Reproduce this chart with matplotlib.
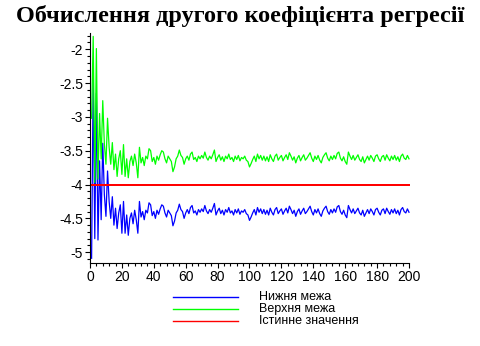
import matplotlib.pyplot as plt
from matplotlib.lines import Line2D
from matplotlib.ticker import MultipleLocator, FuncFormatter
import numpy as np

plt.rcParams['font.family'] = ['Liberation Sans', 'DejaVu Sans']
plt.rcParams['axes.unicode_minus'] = False

# номер ітерації
n = np.arange(1, 201)

# нижня межа довірчого інтервалу
lower = [
    -5.09, -2.43, -4.80, -2.65, -4.82, -3.65, -4.52, -3.39, -4.15, -4.47,
    -3.80, -4.25, -4.50, -4.18, -4.60, -4.35, -4.65, -4.42, -4.30, -4.72,
    -4.25, -4.72, -4.45, -4.75, -4.50, -4.42, -4.58, -4.38, -4.52, -4.72,
    -4.25, -4.48, -4.40, -4.52, -4.38, -4.42, -4.27, -4.30, -4.46, -4.40,
    -4.50, -4.38, -4.44, -4.36, -4.30, -4.32, -4.42, -4.48, -4.38, -4.42,
    -4.46, -4.61, -4.54, -4.42, -4.38, -4.29, -4.37, -4.40, -4.50, -4.42,
    -4.37, -4.43, -4.34, -4.31, -4.42, -4.39, -4.45, -4.37, -4.41, -4.36,
    -4.40, -4.31, -4.39, -4.43, -4.37, -4.41, -4.35, -4.28, -4.45, -4.39,
    -4.35, -4.43, -4.38, -4.45, -4.37, -4.41, -4.34, -4.42, -4.39, -4.45,
    -4.37, -4.42, -4.36, -4.44, -4.39, -4.41, -4.37, -4.43, -4.45, -4.53,
    -4.48, -4.42, -4.37, -4.45, -4.34, -4.41, -4.36, -4.43, -4.37, -4.44,
    -4.38, -4.45, -4.35, -4.41, -4.45, -4.37, -4.34, -4.43, -4.39, -4.36,
    -4.44, -4.39, -4.35, -4.42, -4.32, -4.37, -4.43, -4.38, -4.47, -4.40,
    -4.36, -4.44, -4.39, -4.35, -4.43, -4.40, -4.36, -4.32, -4.40, -4.45,
    -4.37, -4.42, -4.36, -4.43, -4.47, -4.39, -4.35, -4.32, -4.40, -4.44,
    -4.37, -4.42, -4.36, -4.41, -4.33, -4.31, -4.40, -4.44, -4.38, -4.45,
    -4.49, -4.31, -4.37, -4.42, -4.36, -4.43, -4.39, -4.35, -4.42, -4.45,
    -4.38, -4.47, -4.42, -4.37, -4.43, -4.36, -4.40, -4.45, -4.37, -4.35,
    -4.41, -4.45, -4.38, -4.36, -4.43, -4.35, -4.40, -4.44, -4.37, -4.42,
    -4.36, -4.43, -4.38, -4.45, -4.37, -4.34, -4.40, -4.42, -4.36, -4.41,
]

# верхня межа довірчого інтервалу
upper = [
    -3.02, -1.81, -3.97, -1.99, -3.92, -2.95, -3.62, -2.76, -3.40, -3.70,
    -3.02, -3.45, -3.70, -3.38, -3.78, -3.55, -3.88, -3.62, -3.50, -3.85,
    -3.41, -3.88, -3.62, -3.90, -3.66, -3.58, -3.72, -3.55, -3.68, -3.90,
    -3.45, -3.68, -3.60, -3.72, -3.58, -3.62, -3.47, -3.50, -3.66, -3.60,
    -3.70, -3.58, -3.64, -3.56, -3.50, -3.52, -3.62, -3.68, -3.58, -3.62,
    -3.66, -3.81, -3.74, -3.62, -3.58, -3.49, -3.57, -3.60, -3.70, -3.62,
    -3.58, -3.64, -3.55, -3.52, -3.63, -3.60, -3.66, -3.58, -3.62, -3.57,
    -3.61, -3.52, -3.60, -3.64, -3.58, -3.62, -3.56, -3.49, -3.66, -3.60,
    -3.56, -3.64, -3.59, -3.66, -3.58, -3.62, -3.55, -3.63, -3.60, -3.66,
    -3.58, -3.63, -3.57, -3.65, -3.60, -3.62, -3.58, -3.64, -3.66, -3.74,
    -3.69, -3.63, -3.58, -3.66, -3.55, -3.62, -3.57, -3.64, -3.58, -3.65,
    -3.59, -3.66, -3.56, -3.62, -3.66, -3.58, -3.55, -3.64, -3.60, -3.57,
    -3.65, -3.60, -3.56, -3.63, -3.53, -3.58, -3.64, -3.59, -3.68, -3.61,
    -3.57, -3.65, -3.60, -3.56, -3.64, -3.61, -3.57, -3.53, -3.61, -3.66,
    -3.58, -3.63, -3.57, -3.64, -3.68, -3.60, -3.56, -3.53, -3.61, -3.65,
    -3.58, -3.63, -3.57, -3.62, -3.54, -3.52, -3.61, -3.65, -3.59, -3.66,
    -3.70, -3.52, -3.58, -3.63, -3.57, -3.64, -3.60, -3.56, -3.63, -3.66,
    -3.59, -3.68, -3.63, -3.58, -3.64, -3.57, -3.61, -3.66, -3.58, -3.56,
    -3.62, -3.66, -3.59, -3.57, -3.64, -3.56, -3.61, -3.65, -3.58, -3.63,
    -3.57, -3.64, -3.59, -3.66, -3.58, -3.55, -3.61, -3.63, -3.57, -3.62,
]

# істинне значення коефіцієнта
true_value = -4.0

names = ['Нижня межа', 'Верхня межа', 'Істинне значення']
colors = ['#0000ff', '#00ff00', '#ff0000']

fig = plt.figure(figsize=(4.81, 3.46), dpi=100)
ax = fig.add_axes([90 / 481, 1 - 263 / 346, 319 / 481, 230 / 346])

ax.plot(n, lower, color=colors[0], lw=0.9, clip_on=False)
ax.plot(n, upper, color=colors[1], lw=0.9, clip_on=False)
# горизонтальна лінія товщиною у два пікселі
ax.plot([n[0], n[-1]], [true_value, true_value], color=colors[2], lw=1.44,
        snap=True, clip_on=False)

ax.set_xlim(0, 200)
ax.set_ylim(-5.16, -1.76)

for side in ['top', 'right']:
    ax.spines[side].set_visible(False)
for side in ['left', 'bottom']:
    ax.spines[side].set_linewidth(0.8)

ax.xaxis.set_major_locator(MultipleLocator(20))
ax.xaxis.set_minor_locator(MultipleLocator(4))
ax.yaxis.set_major_locator(MultipleLocator(0.5))
ax.yaxis.set_minor_locator(MultipleLocator(0.1))
ax.yaxis.set_major_formatter(FuncFormatter(lambda v, p: f'{v:g}'))
ax.tick_params(which='major', length=3.5, width=0.8, labelsize=10, pad=1.5)
ax.tick_params(which='minor', length=2, width=0.8)

fig.text(0.5, 1 - 16 / 346, 'Обчислення другого коефіцієнта регресії',
         ha='center', va='center', fontsize=17.5, fontweight='bold',
         family=['Liberation Serif', 'DejaVu Serif'])

# легенда під графіком
for i, (name, c) in enumerate(zip(names, colors)):
    y = 1 - (297 + 12 * i) / 346
    fig.add_artist(Line2D([173 / 481, 238 / 481], [y, y], color=c, lw=1))
    fig.text(259 / 481, y, name, ha='left', va='center', fontsize=9)

fig.savefig('out.png', dpi=100)
